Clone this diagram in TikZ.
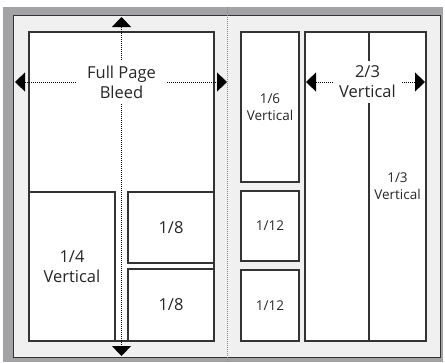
\documentclass[tikz,border=0pt]{standalone}
\usepackage{fontspec}
\setmainfont{Open Sans}
\usetikzlibrary{arrows.meta}
\definecolor{frame}{HTML}{A3A3A5}
\definecolor{pagebg}{HTML}{F0F0F0}
\definecolor{edge}{HTML}{333333}
\definecolor{divider}{HTML}{8A8A8A}
\tikzset{
  box/.style={draw=edge, fill=white, line width=1.1pt, inner sep=0pt, align=center, text=black!85},
  big/.style={font=\fontsize{16.5}{20}\selectfont},
  small/.style={font=\fontsize{13.5}{17}\selectfont},
  label/.style={fill=white, inner sep=0pt, align=center, text=black!85},
  dimline/.style={draw=black, line width=0.8pt, dash pattern=on 1pt off 1pt, -{Triangle[width=19pt,length=10pt]}},
}
\begin{document}
\begin{tikzpicture}[x=1pt,y=-1pt]
\useasboundingbox (0,0) rectangle (445,362);
% frame and page
\fill[frame] (3,7) rectangle (443,362);
\node[draw=edge, fill=pagebg, line width=1pt, inner sep=0pt, minimum width=427pt, minimum height=342pt] (page) at (226.5,186) {};
% center divider
\coordinate (divtop) at (227.5,7);
\coordinate (divbot) at (227.5,362);
\draw[divider, line width=1pt, dash pattern=on 1pt off 1pt] (divtop) -- (divbot);
% left page
\node[box, minimum width=185pt, minimum height=309pt] (full) at (121.5,186.5) {};
\node[box, big, minimum width=86pt, minimum height=149pt] (quarter) at (72,266.5) {1/4\\Vertical};
\node[box, big, minimum width=86pt, minimum height=71pt] (eighthA) at (171,227.5) {1/8};
\node[box, big, minimum width=86pt, minimum height=72pt] (eighthB) at (171,305) {1/8};
% full page label and arrows
\node[label, big, minimum width=91pt, minimum height=44pt] (fplabel) at (121.5,82) {Full Page\\Bleed};
\coordinate (fpTop) at (121.5,17);
\coordinate (fpBot) at (121.5,356);
\coordinate (fpLeft) at (15,82);
\coordinate (fpRight) at (227,82);
\draw[dimline] (fplabel.north) -- (fpTop);
\draw[dimline] (fplabel.south) -- (fpBot);
\draw[dimline] (fplabel.west) -- (fpLeft);
\draw[dimline] (fplabel.east) -- (fpRight);
% right page
\node[box, small, minimum width=58pt, minimum height=150pt] (sixth) at (270,107) {1/6\\Vertical};
\node[box, small, minimum width=58pt, minimum height=70pt] (twelfthA) at (270,226) {1/12};
\node[box, small, minimum width=58pt, minimum height=71pt] (twelfthB) at (270,305.5) {1/12};
\node[box, minimum width=121pt, minimum height=309pt] (twothirds) at (365.5,186.5) {};
\node[box, small, minimum width=57pt, minimum height=309pt] (third) at (397.5,186.5) {1/3\\Vertical};
\node[label, big, minimum width=69pt, minimum height=42pt] (ttlabel) at (367.5,82) {2/3\\Vertical};
\coordinate (ttLeft) at (306,82);
\coordinate (ttRight) at (425,82);
\draw[dimline] (ttlabel.west) -- (ttLeft);
\draw[dimline] (ttlabel.east) -- (ttRight);
\end{tikzpicture}
\end{document}
